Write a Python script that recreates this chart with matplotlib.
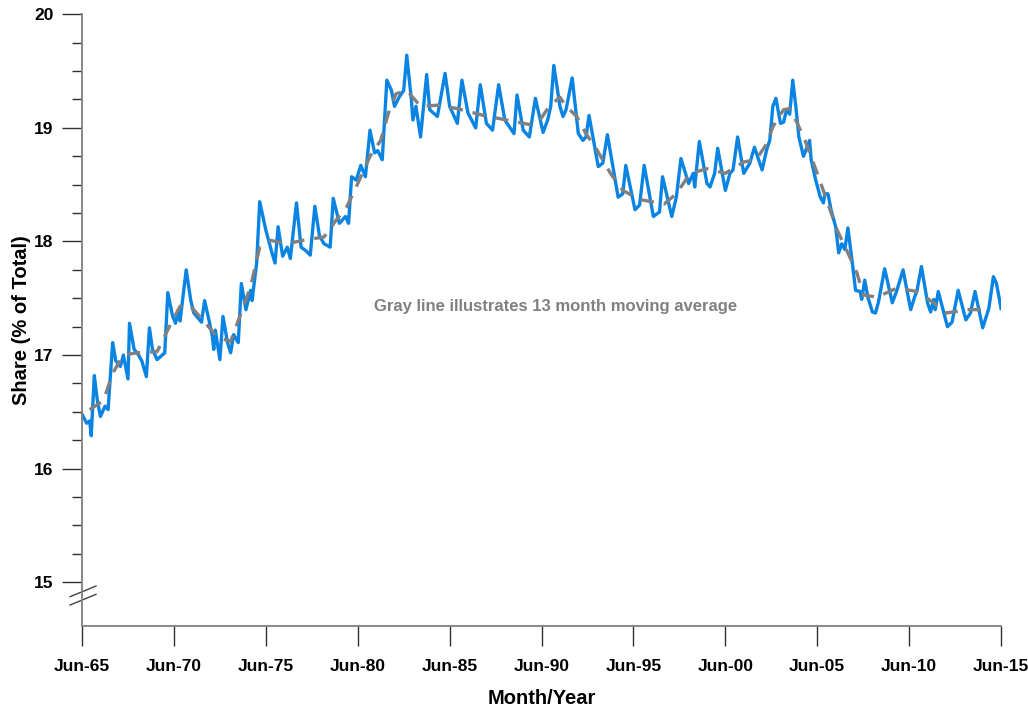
import matplotlib
matplotlib.use("Agg")
import matplotlib.pyplot as plt
from matplotlib.ticker import FixedLocator

plt.rcParams['font.family'] = ['Liberation Sans', 'DejaVu Sans']
plt.rcParams['font.weight'] = 'bold'

# months counted from Jun-1965, share values
months = [0, 3, 5, 6, 8, 10, 12, 15, 17, 20, 22, 25, 27, 30, 31, 34, 36, 39, 42, 44,
          46, 49, 54, 56, 59, 61, 63, 64, 68, 71, 73, 78, 80, 83, 85, 86, 87, 90, 92, 95,
          97, 99, 102, 104, 107, 110, 111, 114, 116, 120, 124, 126, 128, 131, 134, 136, 140, 143, 146, 149,
          152, 155, 158, 162, 164, 168, 172, 174, 176, 179, 182, 185, 188, 191, 193, 196, 199, 202, 204, 207,
          210, 212, 215, 216, 218, 221, 225, 227, 232, 237, 240, 245, 248, 252, 257, 260, 264, 268, 272, 276,
          282, 284, 288, 292, 296, 301, 304, 306, 308, 312, 314, 316, 320, 324, 327, 329, 331, 337, 340, 343,
          350, 353, 355, 361, 364, 367, 373, 377, 379, 385, 388, 391, 396, 399, 400, 403, 408, 410, 413, 415,
          420, 423, 425, 428, 432, 436, 439, 444, 447, 449, 451, 453, 456, 458, 460, 462, 464, 466, 468, 471,
          475, 476, 479, 482, 484, 485, 487, 489, 492, 494, 496, 498, 500, 503, 505, 508, 509, 511, 513, 516,
          518, 520, 524, 529, 532, 536, 541, 544, 545, 548, 552, 554, 556, 557, 559, 565, 568, 572, 577, 580,
          583, 588, 592, 595, 597, 600]
share = [16.48, 16.40, 16.42, 16.29, 16.82, 16.60, 16.46, 16.55, 16.52, 17.11, 16.95, 16.90, 17.00, 16.79, 17.28, 17.05, 17.02, 16.95, 16.81, 17.24,
         17.05, 16.96, 17.02, 17.55, 17.35, 17.28, 17.40, 17.30, 17.75, 17.48, 17.37, 17.29, 17.48, 17.30, 17.17, 17.05, 17.22, 16.96, 17.34, 17.11,
         17.02, 17.18, 17.11, 17.63, 17.40, 17.57, 17.48, 17.81, 18.35, 18.10, 17.90, 17.81, 18.13, 17.87, 17.95, 17.85, 18.34, 17.95, 17.92, 17.88,
         18.31, 18.05, 17.98, 17.95, 18.38, 18.16, 18.22, 18.16, 18.57, 18.54, 18.67, 18.57, 18.98, 18.78, 18.80, 18.72, 19.42, 19.33, 19.19, 19.27,
         19.33, 19.64, 19.25, 19.07, 19.19, 18.92, 19.47, 19.16, 19.10, 19.48, 19.19, 19.04, 19.42, 19.13, 19.00, 19.38, 19.04, 18.98, 19.38, 19.07,
         18.95, 19.29, 18.98, 18.92, 19.26, 18.96, 19.07, 19.19, 19.55, 19.19, 19.10, 19.16, 19.44, 18.95, 18.89, 18.92, 19.11, 18.66, 18.69, 18.94,
         18.39, 18.42, 18.67, 18.28, 18.32, 18.67, 18.22, 18.26, 18.57, 18.22, 18.39, 18.73, 18.51, 18.60, 18.48, 18.88, 18.51, 18.48, 18.60, 18.82,
         18.45, 18.60, 18.63, 18.92, 18.60, 18.69, 18.83, 18.63, 18.81, 18.89, 19.19, 19.26, 19.04, 19.05, 19.16, 19.12, 19.42, 19.19, 18.92, 18.75,
         18.89, 18.72, 18.54, 18.39, 18.34, 18.42, 18.42, 18.28, 18.13, 17.90, 17.98, 17.93, 18.12, 17.80, 17.57, 17.56, 17.49, 17.66, 17.51, 17.38,
         17.37, 17.47, 17.76, 17.46, 17.57, 17.75, 17.40, 17.53, 17.56, 17.78, 17.46, 17.38, 17.49, 17.40, 17.56, 17.25, 17.29, 17.57, 17.31, 17.37,
         17.56, 17.24, 17.41, 17.69, 17.63, 17.41]

# 13 month moving average (gray dashed line)
ma_months = [5, 14, 20, 27, 36, 49, 57, 64, 70, 79, 88, 97, 103, 110, 116, 123, 134, 144, 158, 166,
             173, 179, 188, 195, 200, 205, 212, 221, 232, 245, 262, 277, 292, 299, 305, 312, 316, 323, 329, 336,
             345, 353, 364, 380, 388, 397, 408, 420, 432, 440, 447, 451, 458, 462, 467, 472, 480, 486, 493, 501,
             506, 510, 519, 532, 545, 556, 564, 578, 588]
ma_share = [16.52, 16.60, 16.84, 17.00, 17.02, 17.03, 17.25, 17.43, 17.44, 17.31, 17.16, 17.12, 17.34, 17.60, 17.95, 18.01, 17.98, 18.01, 18.04, 18.19,
            18.31, 18.48, 18.75, 18.89, 19.13, 19.30, 19.33, 19.19, 19.20, 19.17, 19.11, 19.07, 19.03, 19.07, 19.19, 19.27, 19.19, 19.10, 18.95, 18.81,
            18.60, 18.45, 18.37, 18.33, 18.42, 18.60, 18.64, 18.60, 18.70, 18.72, 18.86, 19.01, 19.16, 19.17, 19.04, 18.89, 18.60, 18.37, 18.10, 17.87,
            17.72, 17.53, 17.51, 17.59, 17.56, 17.46, 17.37, 17.40, 17.40]

tick_months = [0, 60, 120, 180, 240, 300, 360, 420, 480, 540, 600]
tick_labels = ['Jun-65', 'Jun-70', 'Jun-75', 'Jun-80', 'Jun-85', 'Jun-90',
               'Jun-95', 'Jun-00', 'Jun-05', 'Jun-10', 'Jun-15']

fig = plt.figure(figsize=(10.28, 7.08), dpi=100)
ax = fig.add_axes([0.0798, 0.1158, 0.894, 0.864])

ax.plot(months, share, color='#0A84E2', lw=2.4, zorder=2)
ax.plot(ma_months, ma_share, color='#808080', lw=2.4, ls=(0, (4, 3)), zorder=3)

ax.set_xlim(0, 600)
ax.set_ylim(14.615, 20)

ax.set_xticks(tick_months)
ax.set_xticklabels(tick_labels)
ax.set_yticks([15, 16, 17, 18, 19, 20])
ax.yaxis.set_minor_locator(FixedLocator([v / 4 for v in range(61, 80) if v % 4]))

ax.tick_params(axis='both', which='major', direction='out', length=14.4, width=1.0,
               color='#303030', labelsize=12.5)
ax.tick_params(axis='y', which='minor', direction='out', length=7.2, width=1.0, color='#303030')
ax.tick_params(axis='y', which='major', pad=6)
ax.tick_params(axis='x', which='major', pad=9)

for side in ['top', 'right']:
    ax.spines[side].set_visible(False)
for side in ['left', 'bottom']:
    ax.spines[side].set_color('#808080')
    ax.spines[side].set_linewidth(1.3)

# axis break marks on the y axis
tr = ax.get_yaxis_transform()
ax.plot([-0.013, 0.0152], [14.873, 14.967], color='#404040', lw=1.0, transform=tr, clip_on=False)
ax.plot([-0.013, 0.0152], [14.800, 14.894], color='#404040', lw=1.0, transform=tr, clip_on=False)

ax.set_xlabel('Month/Year', fontsize=14.5, fontweight='bold', labelpad=11)
ax.set_ylabel('Share (% of Total)', fontsize=14.5, fontweight='bold', labelpad=2)

ax.text(309, 17.43, 'Gray line illustrates 13 month moving average', color='#808080',
        fontsize=12, fontweight='bold', ha='center', va='center')

fig.savefig('out.png', dpi=100)
